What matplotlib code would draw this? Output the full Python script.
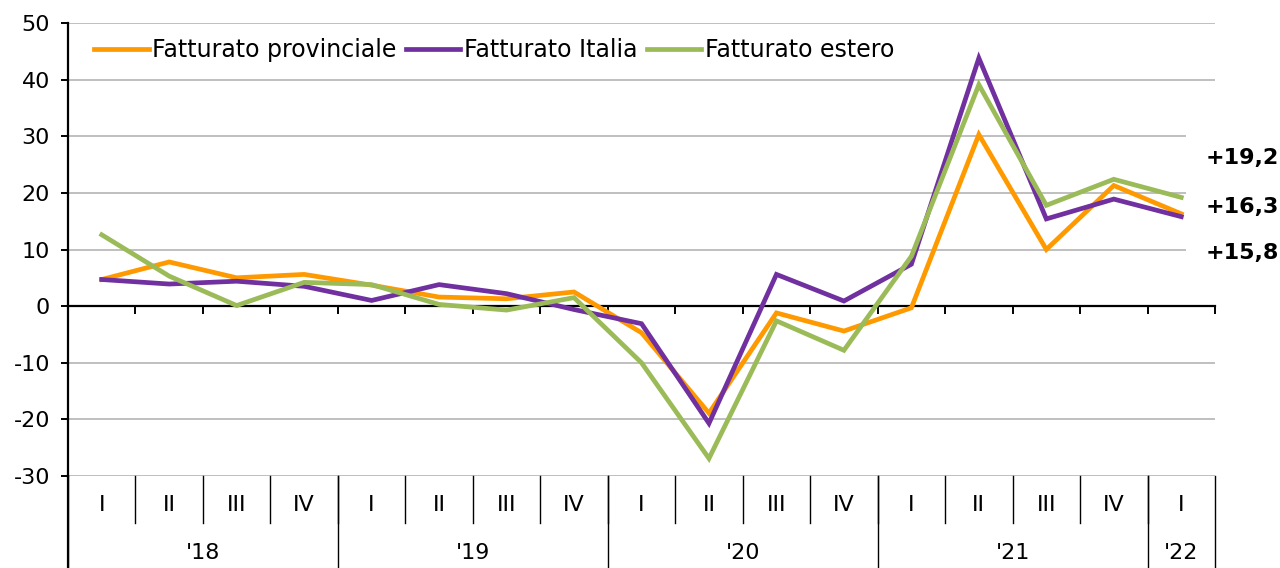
import matplotlib
matplotlib.use("Agg")
import matplotlib.pyplot as plt

plt.rcParams["font.family"] = ["DejaVu Sans"]
plt.rcParams["axes.unicode_minus"] = False

quarters = ["I", "II", "III", "IV"] * 4 + ["I"]
years = ["'18", "'19", "'20", "'21", "'22"]
year_len = [4, 4, 4, 4, 1]

provinciale = [4.7, 7.8, 5.0, 5.6, 3.7, 1.6, 1.3, 2.5, -4.7, -18.9, -1.2, -4.4, -0.3, 30.3, 10.0, 21.3, 16.3]
italia = [4.7, 3.9, 4.4, 3.5, 1.0, 3.8, 2.2, -0.6, -3.1, -20.7, 5.6, 0.9, 7.4, 43.8, 15.4, 18.9, 15.8]
estero = [12.6, 5.3, 0.1, 4.2, 3.8, 0.3, -0.7, 1.5, -10.0, -26.9, -2.6, -7.8, 8.8, 39.1, 17.8, 22.4, 19.2]

series = [
    ("Fatturato provinciale", provinciale, "#FF9900"),
    ("Fatturato Italia", italia, "#7030A0"),
    ("Fatturato estero", estero, "#9BBB59"),
]

fig = plt.figure(figsize=(12.8, 5.68), dpi=100)
ax = fig.add_axes([68 / 1280, 1 - 476 / 568, (1215 - 68) / 1280, (476 - 23) / 568])

n = len(quarters)
xs = list(range(n))
for name, vals, col in series:
    ax.plot(xs, vals, color=col, lw=3.4, label=name, solid_joinstyle="miter", zorder=3)

ax.set_xlim(-0.5, n - 0.5)
ax.set_ylim(-30, 50)
ax.set_yticks(range(-30, 51, 10))
ax.grid(axis="y", color="#BFBFBF", lw=1.4)
ax.set_axisbelow(True)

for s in ["top", "right"]:
    ax.spines[s].set_visible(False)
ax.spines["left"].set_linewidth(1.6)
ax.spines["bottom"].set_position(("data", 0))
ax.spines["bottom"].set_linewidth(1.6)
ax.spines["bottom"].set_zorder(2)

ax.set_xticks([k + 0.5 for k in range(-1, n)])
ax.set_xticklabels([])
ax.tick_params(axis="x", direction="out", length=6, width=1.4)
ax.tick_params(axis="y", direction="out", length=5, width=1.4, labelsize=16, pad=8)

# left spine down to the bottom of the figure
ax.plot([-0.5, -0.5], [-30, -30 - 92 / 453 * 80], color="black", lw=1.6, clip_on=False)

# category table below the plot
q_bot = -47 / 453
y_bot = -92 / 453
trans = ax.get_xaxis_transform()
for k in range(n - 1):
    ax.plot([k + 0.5, k + 0.5], [0, q_bot], color="black", lw=1.0, transform=trans, clip_on=False)
for i, q in enumerate(quarters):
    ax.text(i, -29 / 453, q, transform=trans, ha="center", va="center", fontsize=16)
start = 0
bounds = [-0.5]
for yl, ln in zip(years, year_len):
    ax.text(start + (ln - 1) / 2, -77 / 453, yl, transform=trans, ha="center", va="center", fontsize=16)
    start += ln
    bounds.append(start - 0.5)
for b in bounds:
    ax.plot([b, b], [0, y_bot], color="black", lw=1.0, transform=trans, clip_on=False)

# end-value labels
label_y = [26.1, 17.5, 9.4]
for vals, ly in zip([estero, provinciale, italia], label_y):
    txt = "+" + f"{vals[-1]:.1f}".replace(".", ",")
    ax.text(16.36, ly, txt, ha="left", va="center", fontsize=16, fontweight="bold",
            clip_on=False, zorder=4,
            bbox=dict(boxstyle="square,pad=0.9", fc="white", ec="none"))

ax.legend(loc="center left", bbox_to_anchor=(0.023, 0.94), ncol=3, frameon=False,
          fontsize=17, handlelength=2.3, handletextpad=0.15, columnspacing=0.4,
          borderaxespad=0, borderpad=0)

fig.savefig("out.png", dpi=100)
